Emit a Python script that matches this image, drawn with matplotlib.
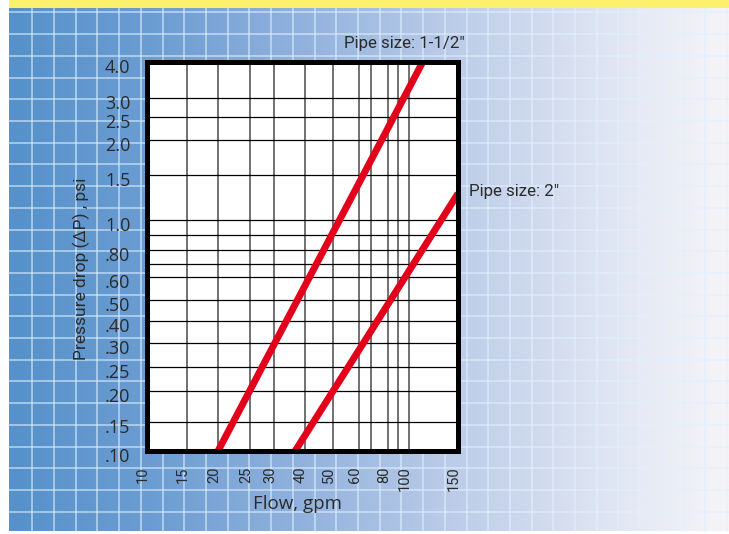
import numpy as np
import matplotlib.pyplot as plt
import matplotlib.transforms as mtransforms
from matplotlib.colors import LinearSegmentedColormap
from matplotlib.patches import Rectangle
from matplotlib.ticker import FixedLocator, NullFormatter

# Data
flow_ticks = [10, 15, 20, 25, 30, 40, 50, 60, 80, 100, 150]
flow_minor = [70, 90]
dp_ticks = [0.10, 0.15, 0.20, 0.25, 0.30, 0.40, 0.50, 0.60, 0.80, 1.0, 1.5, 2.0, 2.5, 3.0, 4.0]
dp_labels = ['.10', '.15', '.20', '.25', '.30', '.40', '.50', '.60', '.80',
             '1.0', '1.5', '2.0', '2.5', '3.0', '4.0']
dp_minor = [0.70, 0.90]

pipe_15_flow = [20, 112]
pipe_15_dp = [0.10, 4.0]
pipe_2_flow = [36.5, 150]
pipe_2_dp = [0.10, 1.27]

# The printed grid is roughly logarithmic but hand drawn: knots of the axis scale
x_knot_vals = [10, 15, 20, 25, 30, 40, 50, 60, 70, 80, 90, 100, 150]
x_knot_px = [147, 187, 218, 250, 274, 305, 333, 359, 371, 388, 398, 409, 458]
y_knot_vals = [0.1, 0.15, 0.2, 0.25, 0.3, 0.4, 0.5, 0.6, 0.7, 0.8, 0.9, 1.0, 1.5, 2.0, 2.5, 3.0, 4.0]
y_knot_px = [451, 422, 391, 367, 343, 321, 300, 277, 264, 250, 235, 220, 175, 140, 117, 98, 62]


def knot_scale(vals, pos):
    lv = np.log10(vals)
    p = np.asarray(pos, float)

    def fwd(v):
        v = np.asarray(v, float)
        return np.interp(np.log10(np.where(v > 0, v, 1e-12)), lv, p)

    def inv(q):
        return 10 ** np.interp(q, p, lv)
    return fwd, inv


W, H = 729, 534
fig = plt.figure(figsize=(W / 100, H / 100), dpi=100)
narrow = ['Roboto', 'DejaVu Sans']
regular = ['Open Sans', 'DejaVu Sans']
txt = '#2b2b2b'

# background panel: blue to white gradient, yellow strip, light grid
bg = fig.add_axes([0, 0, 1, 1], zorder=0)
cmap = LinearSegmentedColormap.from_list('bg', [
    (0.0, '#5691ca'), (0.2, '#6c9dd2'), (0.4, '#90b1dd'), (0.6, '#b8cae7'),
    (0.75, '#d3dcef'), (0.9, '#e9ecf5'), (1.0, '#f5f4f8')])
bg.imshow(np.linspace(0, 1, 256)[None, :], cmap=cmap, extent=(9, W, 531, 7), aspect='auto')
bg.add_patch(Rectangle((9, 0), W - 9, 8, color='#fdf06c', lw=0))
for x in np.arange(32.3, W, 21.71):
    bg.plot([x, x], [8, 531], color='#e0f1ff', alpha=0.7, lw=1.1)
for y in np.arange(12.4, 531, 21.71):
    bg.plot([9, W], [y, y], color='#e0f1ff', alpha=0.7, lw=1.1)
bg.set_xlim(0, W)
bg.set_ylim(H, 0)
bg.axis('off')

# chart
ax = fig.add_axes([147 / W, 1 - 451 / H, 311 / W, 389 / H], zorder=2)
ax.set_facecolor('white')
ax.set_xscale('function', functions=knot_scale(x_knot_vals, x_knot_px))
ax.set_yscale('function', functions=knot_scale(y_knot_vals, -np.array(y_knot_px)))
ax.set_xlim(10, 150)
ax.set_ylim(0.1, 4.0)

red = '#e3001b'
ax.plot(pipe_15_flow, pipe_15_dp, color=red, lw=5, solid_capstyle='butt')
ax.plot(pipe_2_flow, pipe_2_dp, color=red, lw=5, solid_capstyle='butt')

ax.xaxis.set_major_locator(FixedLocator(flow_ticks))
ax.xaxis.set_minor_locator(FixedLocator(flow_minor))
ax.xaxis.set_minor_formatter(NullFormatter())
ax.set_xticklabels([str(v) for v in flow_ticks])
ax.yaxis.set_major_locator(FixedLocator(dp_ticks))
ax.yaxis.set_minor_locator(FixedLocator(dp_minor))
ax.yaxis.set_minor_formatter(NullFormatter())
ax.set_yticklabels(dp_labels)

ax.tick_params(which='both', length=0)
ax.tick_params(axis='x', pad=11, labelrotation=90, labelsize=10.5, labelcolor=txt)
ax.tick_params(axis='y', pad=12, labelsize=13, labelcolor=txt)
for lbl in ax.get_xticklabels():
    lbl.set_family(narrow)
    lbl.set_transform(lbl.get_transform() + mtransforms.ScaledTranslation(-0.04, 0, fig.dpi_scale_trans))
for lbl in ax.get_yticklabels():
    lbl.set_family(regular)
    lbl.set_transform(lbl.get_transform() + mtransforms.ScaledTranslation(0, -0.04, fig.dpi_scale_trans))

ax.grid(axis='x', which='both', color='#4a4a4a', lw=1.1)
ax.grid(axis='y', which='both', color='black', lw=0.9)
for s in ax.spines.values():
    s.set_linewidth(3.6)
    s.set_color('black')

ax.set_xlabel('Flow, gpm', fontsize=13.5, family=regular, color=txt)
ax.xaxis.set_label_coords(0.4855, -0.114)
ax.set_ylabel('Pressure drop (ΔP) , psi', fontsize=12.5, va='center', family=narrow, color=txt)
ax.yaxis.set_label_coords(-0.212, 0.468)

fig.text(344 / W, 1 - 48 / H, 'Pipe size: 1-1/2"', fontsize=12.2, va='baseline',
         family=narrow, color=txt)
fig.text(469 / W, 1 - 196 / H, 'Pipe size: 2"', fontsize=12.2, va='baseline',
         family=narrow, color=txt)

fig.savefig('out.png', dpi=100)
